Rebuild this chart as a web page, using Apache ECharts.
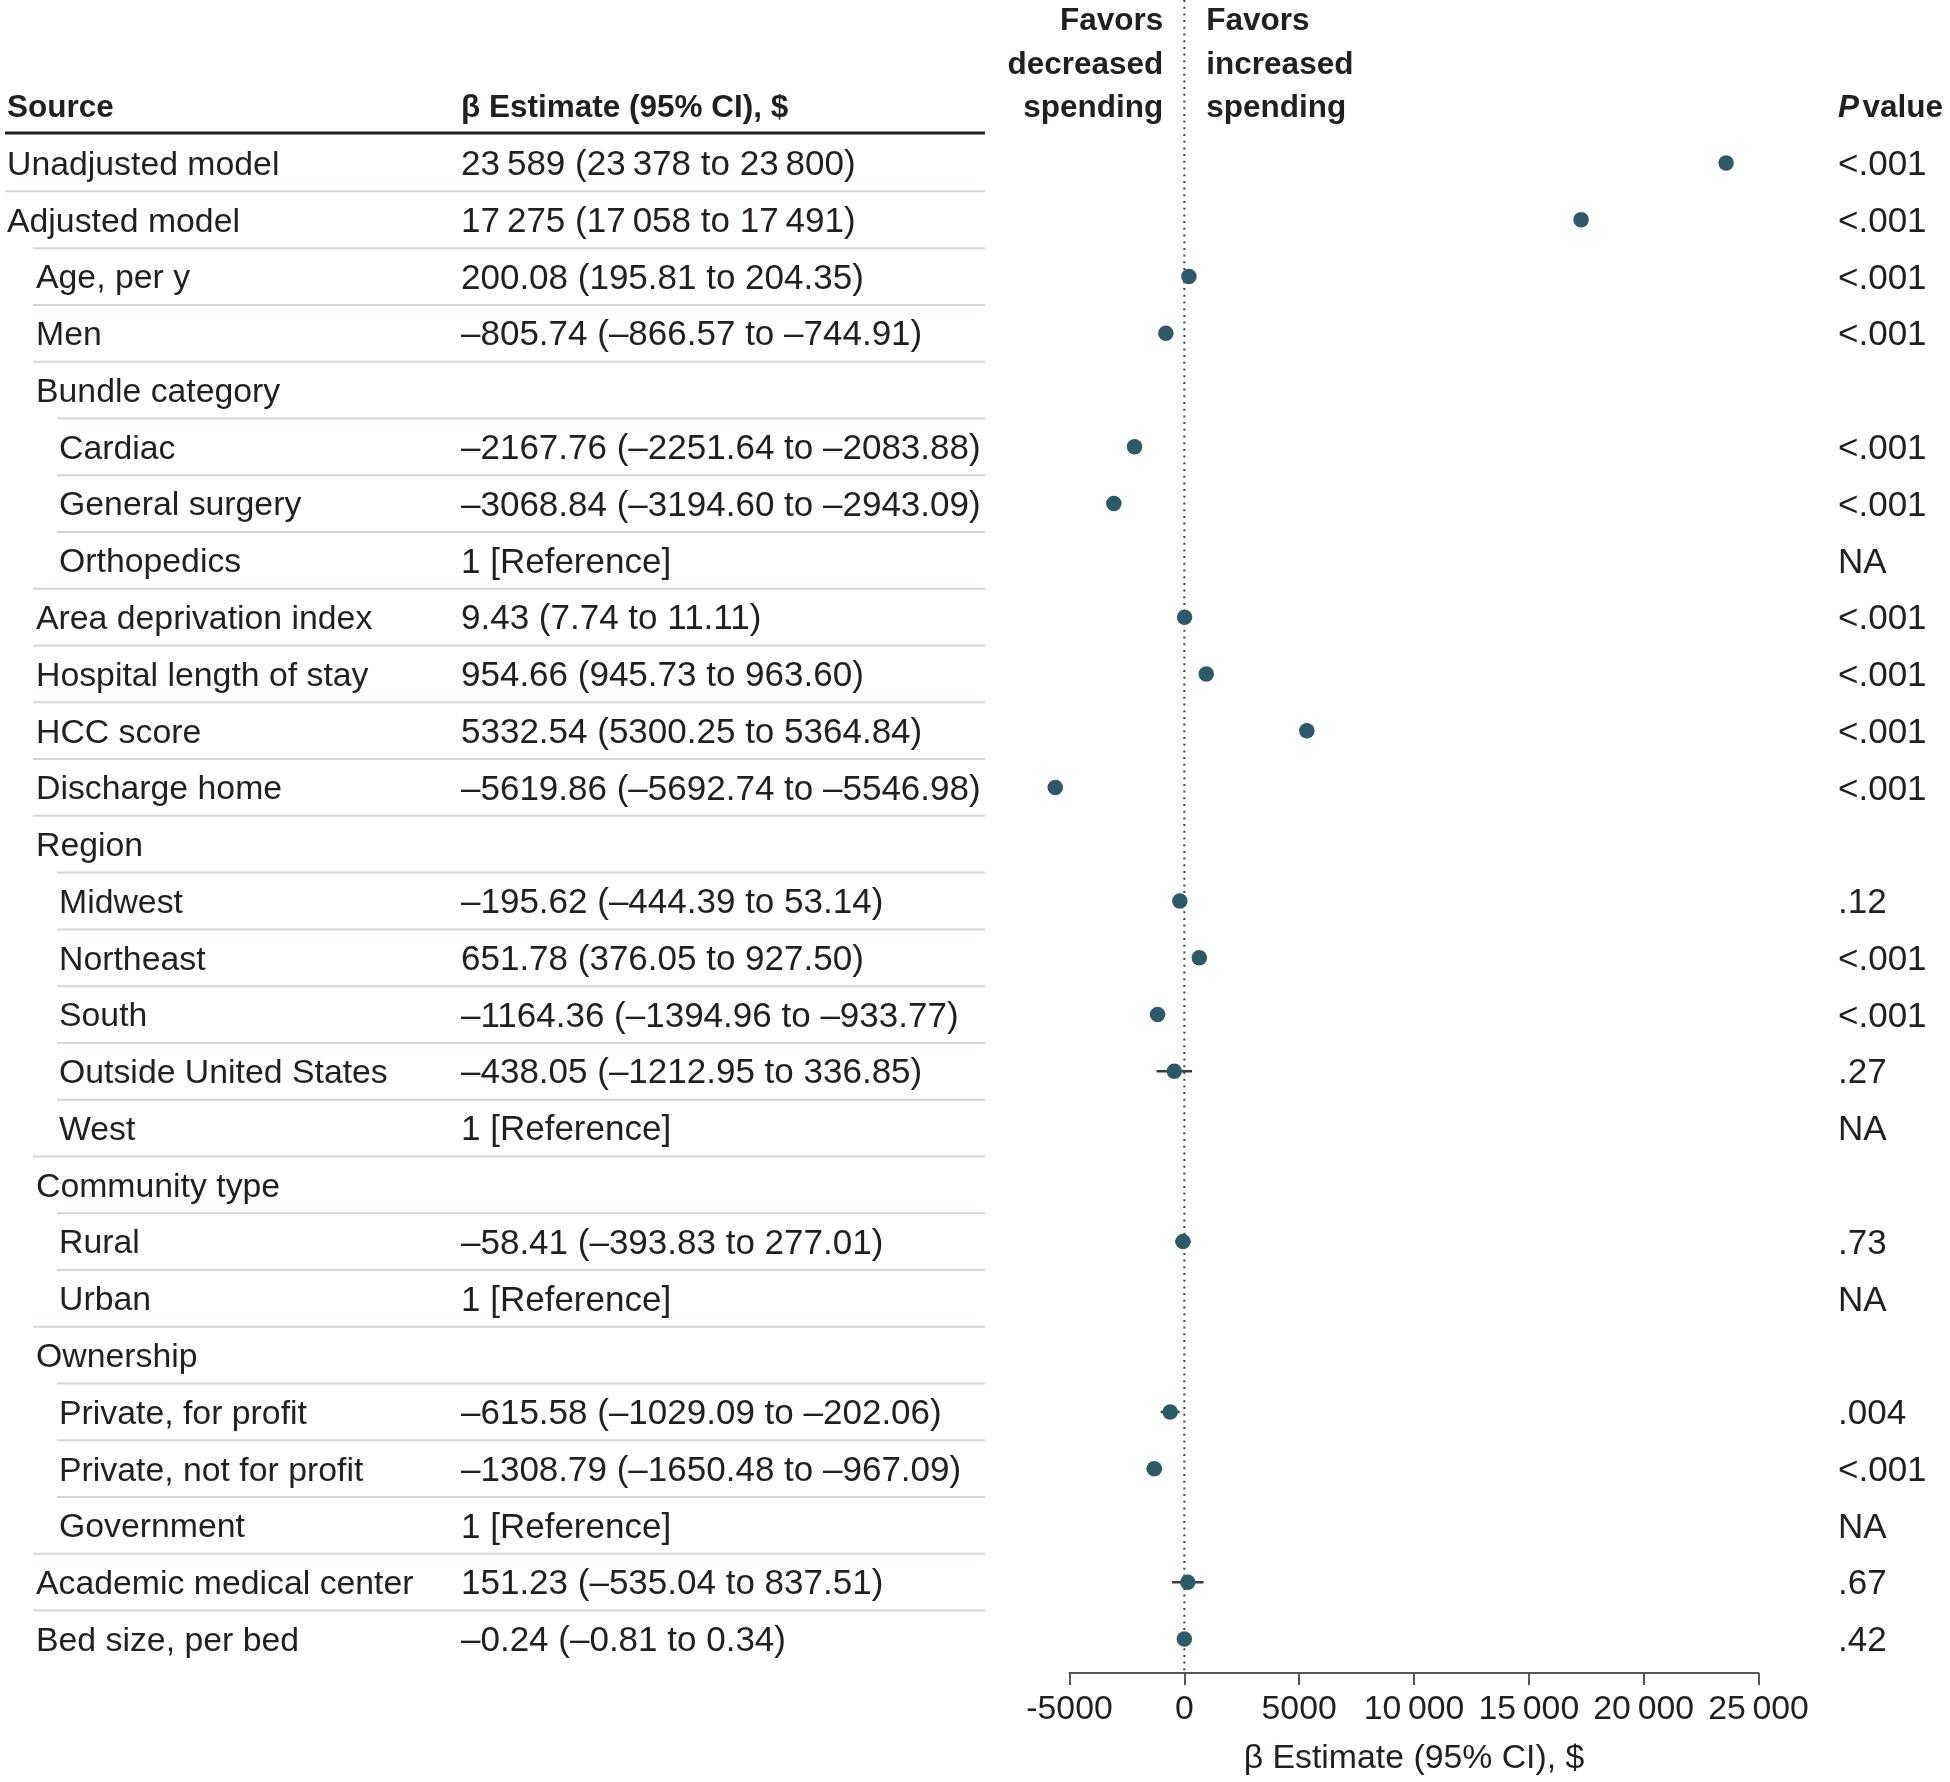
<!DOCTYPE html>
<html><head><meta charset="utf-8">
<script src="https://cdn.jsdelivr.net/npm/echarts@6/dist/echarts.min.js"></script>
<style>html,body{margin:0;padding:0;background:#fff}#c{width:1950px;height:1782px}</style>
</head><body><div id="c"></div>
<script>
const TS = '\u2009';
const categories = [
  'Unadjusted model','Adjusted model','Age, per y','Men','Bundle category','Cardiac','General surgery','Orthopedics',
  'Area deprivation index','Hospital length of stay','HCC score','Discharge home','Region','Midwest','Northeast','South',
  'Outside United States','West','Community type','Rural','Urban','Ownership','Private, for profit',
  'Private, not for profit','Government','Academic medical center','Bed size, per bed'
];
const levels = [0,0,1,1,1,2,2,2,1,1,1,1,1,2,2,2,2,2,1,2,2,1,2,2,2,1,1];
const estimateLabels = [
  '23'+TS+'589 (23'+TS+'378 to 23'+TS+'800)','17'+TS+'275 (17'+TS+'058 to 17'+TS+'491)',
  '200.08 (195.81 to 204.35)','–805.74 (–866.57 to –744.91)','',
  '–2167.76 (–2251.64 to –2083.88)','–3068.84 (–3194.60 to –2943.09)','1 [Reference]',
  '9.43 (7.74 to 11.11)','954.66 (945.73 to 963.60)','5332.54 (5300.25 to 5364.84)',
  '–5619.86 (–5692.74 to –5546.98)','','–195.62 (–444.39 to 53.14)','651.78 (376.05 to 927.50)',
  '–1164.36 (–1394.96 to –933.77)','–438.05 (–1212.95 to 336.85)','1 [Reference]','',
  '–58.41 (–393.83 to 277.01)','1 [Reference]','','–615.58 (–1029.09 to –202.06)',
  '–1308.79 (–1650.48 to –967.09)','1 [Reference]','151.23 (–535.04 to 837.51)','–0.24 (–0.81 to 0.34)'
];
const pValues = ['<.001','<.001','<.001','<.001','','<.001','<.001','NA','<.001','<.001','<.001','<.001','',
  '.12','<.001','<.001','.27','NA','','.73','NA','','.004','<.001','NA','.67','.42'];
const estimates = [23589,17275,200.08,-805.74,null,-2167.76,-3068.84,null,9.43,954.66,5332.54,-5619.86,null,
  -195.62,651.78,-1164.36,-438.05,null,null,-58.41,null,null,-615.58,-1308.79,null,151.23,-0.24];
const lowerCI = [23378,17058,195.81,-866.57,null,-2251.64,-3194.60,null,7.74,945.73,5300.25,-5692.74,null,
  -444.39,376.05,-1394.96,-1212.95,null,null,-393.83,null,null,-1029.09,-1650.48,null,-535.04,-0.81];
const upperCI = [23800,17491,204.35,-744.91,null,-2083.88,-2943.09,null,11.11,963.60,5364.84,-5546.98,null,
  53.14,927.50,-933.77,336.85,null,null,277.01,null,null,-202.06,-967.09,null,837.51,0.34];
const axisMin = -5000, axisMax = 25000, axisStep = 5000;

const FONT = '"Liberation Sans", Arial, sans-serif';
const TXT = '#231f20';
const DOT = '#2c5a69';
const BODY = 33.8, NUM = 35, HEAD = 31.5;

const chart = echarts.init(document.getElementById('c'), null, {renderer:'canvas'});

const pointData = [], barData = [];
estimates.forEach((v,i)=>{
  if (v !== null) {
    pointData.push([v, i]);
    barData.push([lowerCI[i], upperCI[i], i]);
  }
});

const gridTop = 134.6, rowH = 56.77;
chart.setOption({
  animation:false,
  backgroundColor:'#fff',
  grid:{left:1069.5, width:689, top:gridTop, height:rowH*categories.length},
  xAxis:{
    type:'value', min:axisMin, max:axisMax, interval:axisStep, offset:5.6,
    axisLine:{show:true, onZero:false, lineStyle:{color:'#555', width:2}},
    axisTick:{show:true, length:12, lineStyle:{color:'#555', width:2}},
    splitLine:{show:false},
    axisLabel:{fontFamily:FONT, fontSize:BODY, color:TXT, margin:20,
      formatter:v=> Math.abs(v)>=10000 ? String(v).slice(0,-3)+TS+String(v).slice(-3) : String(v)},
    name:'\u03b2 Estimate (95% CI), $', nameLocation:'middle', nameGap:69,
    nameTextStyle:{fontFamily:FONT, fontSize:BODY, color:TXT}
  },
  yAxis:{type:'category', data:categories, inverse:true, show:false, boundaryGap:true},
  series:[
    {type:'custom', data:barData, encode:{x:[0,1], y:2}, z:2, clip:false,
      renderItem:(params, api)=>{
        const a = api.coord([api.value(0), api.value(2)]);
        const b = api.coord([api.value(1), api.value(2)]);
        return {type:'line', shape:{x1:a[0], y1:a[1], x2:b[0], y2:b[1]},
          style:{stroke:'#3a3a3a', lineWidth:2.5}};
      }},
    {type:'scatter', data:pointData, symbol:'circle', symbolSize:15.5, z:4, clip:false,
      itemStyle:{color:DOT, opacity:1}}
  ]
});

function buildGraphics(){
  const ys = categories.map((c,i)=>chart.convertToPixel({gridIndex:0},[0,i])[1]);
  const x0 = chart.convertToPixel({gridIndex:0},[0,0])[0];
  const axisY = chart.convertToPixel({gridIndex:0},[0,categories.length-1])[1] + rowH/2 + 5.6;
  const textIndent = [7, 36, 59];
  const lineStart = [5, 33, 57];
  const estX = 461, pX = 1838, tableEnd = 985, dy = 2.5;
  const els = [];
  const txt = (text,x,y,opt)=>{
    opt = opt||{};
    els.push({type:'text', silent:true, z:10, style:{text, x, y:y+dy,
      font:(opt.style||'normal')+' '+(opt.weight||'normal')+' '+(opt.size||BODY)+'px '+FONT,
      fill:TXT, textAlign:opt.align||'left', textVerticalAlign:'middle', align:opt.align||'left', verticalAlign:'middle'}});
  };
  // header
  const headY = gridTop - 28.5;
  txt('Source', 7, headY, {weight:'bold', size:HEAD});
  txt('\u03b2 Estimate (95% CI), $', estX, headY, {weight:'bold', size:HEAD});
  txt('P', pX, headY, {weight:'bold', style:'italic', size:HEAD});
  txt('value', 1943, headY, {weight:'bold', size:HEAD, align:'right'});
  const favY = [19, 62.5, headY];
  ['Favors','decreased','spending'].forEach((t,k)=>txt(t, x0-21, favY[k], {weight:'bold', size:HEAD, align:'right'}));
  ['Favors','increased','spending'].forEach((t,k)=>txt(t, x0+22, favY[k], {weight:'bold', size:HEAD}));
  els.push({type:'line', silent:true, z:5, shape:{x1:5, y1:gridTop-1.5, x2:tableEnd, y2:gridTop-1.5},
    style:{stroke:TXT, lineWidth:3}});
  // rows
  categories.forEach((c,i)=>{
    txt(c, textIndent[levels[i]], ys[i]);
    if (estimateLabels[i]) txt(estimateLabels[i], estX, ys[i], {size:NUM});
    if (pValues[i]) txt(pValues[i], pX, ys[i], {size:NUM});
    if (i < categories.length-1) {
      const my = (ys[i]+ys[i+1])/2;
      els.push({type:'line', silent:true, z:5, shape:{x1:lineStart[levels[i+1]], y1:my, x2:tableEnd, y2:my},
        style:{stroke:'#d6d6ce', lineWidth:2}});
    }
  });
  // zero reference line
  els.push({type:'line', silent:true, z:1, shape:{x1:x0, y1:0, x2:x0, y2:axisY},
    style:{stroke:'#444', lineWidth:2, lineDash:[2,4.7]}});
  chart.setOption({graphic:els});
}
buildGraphics();
</script>
</body></html>
